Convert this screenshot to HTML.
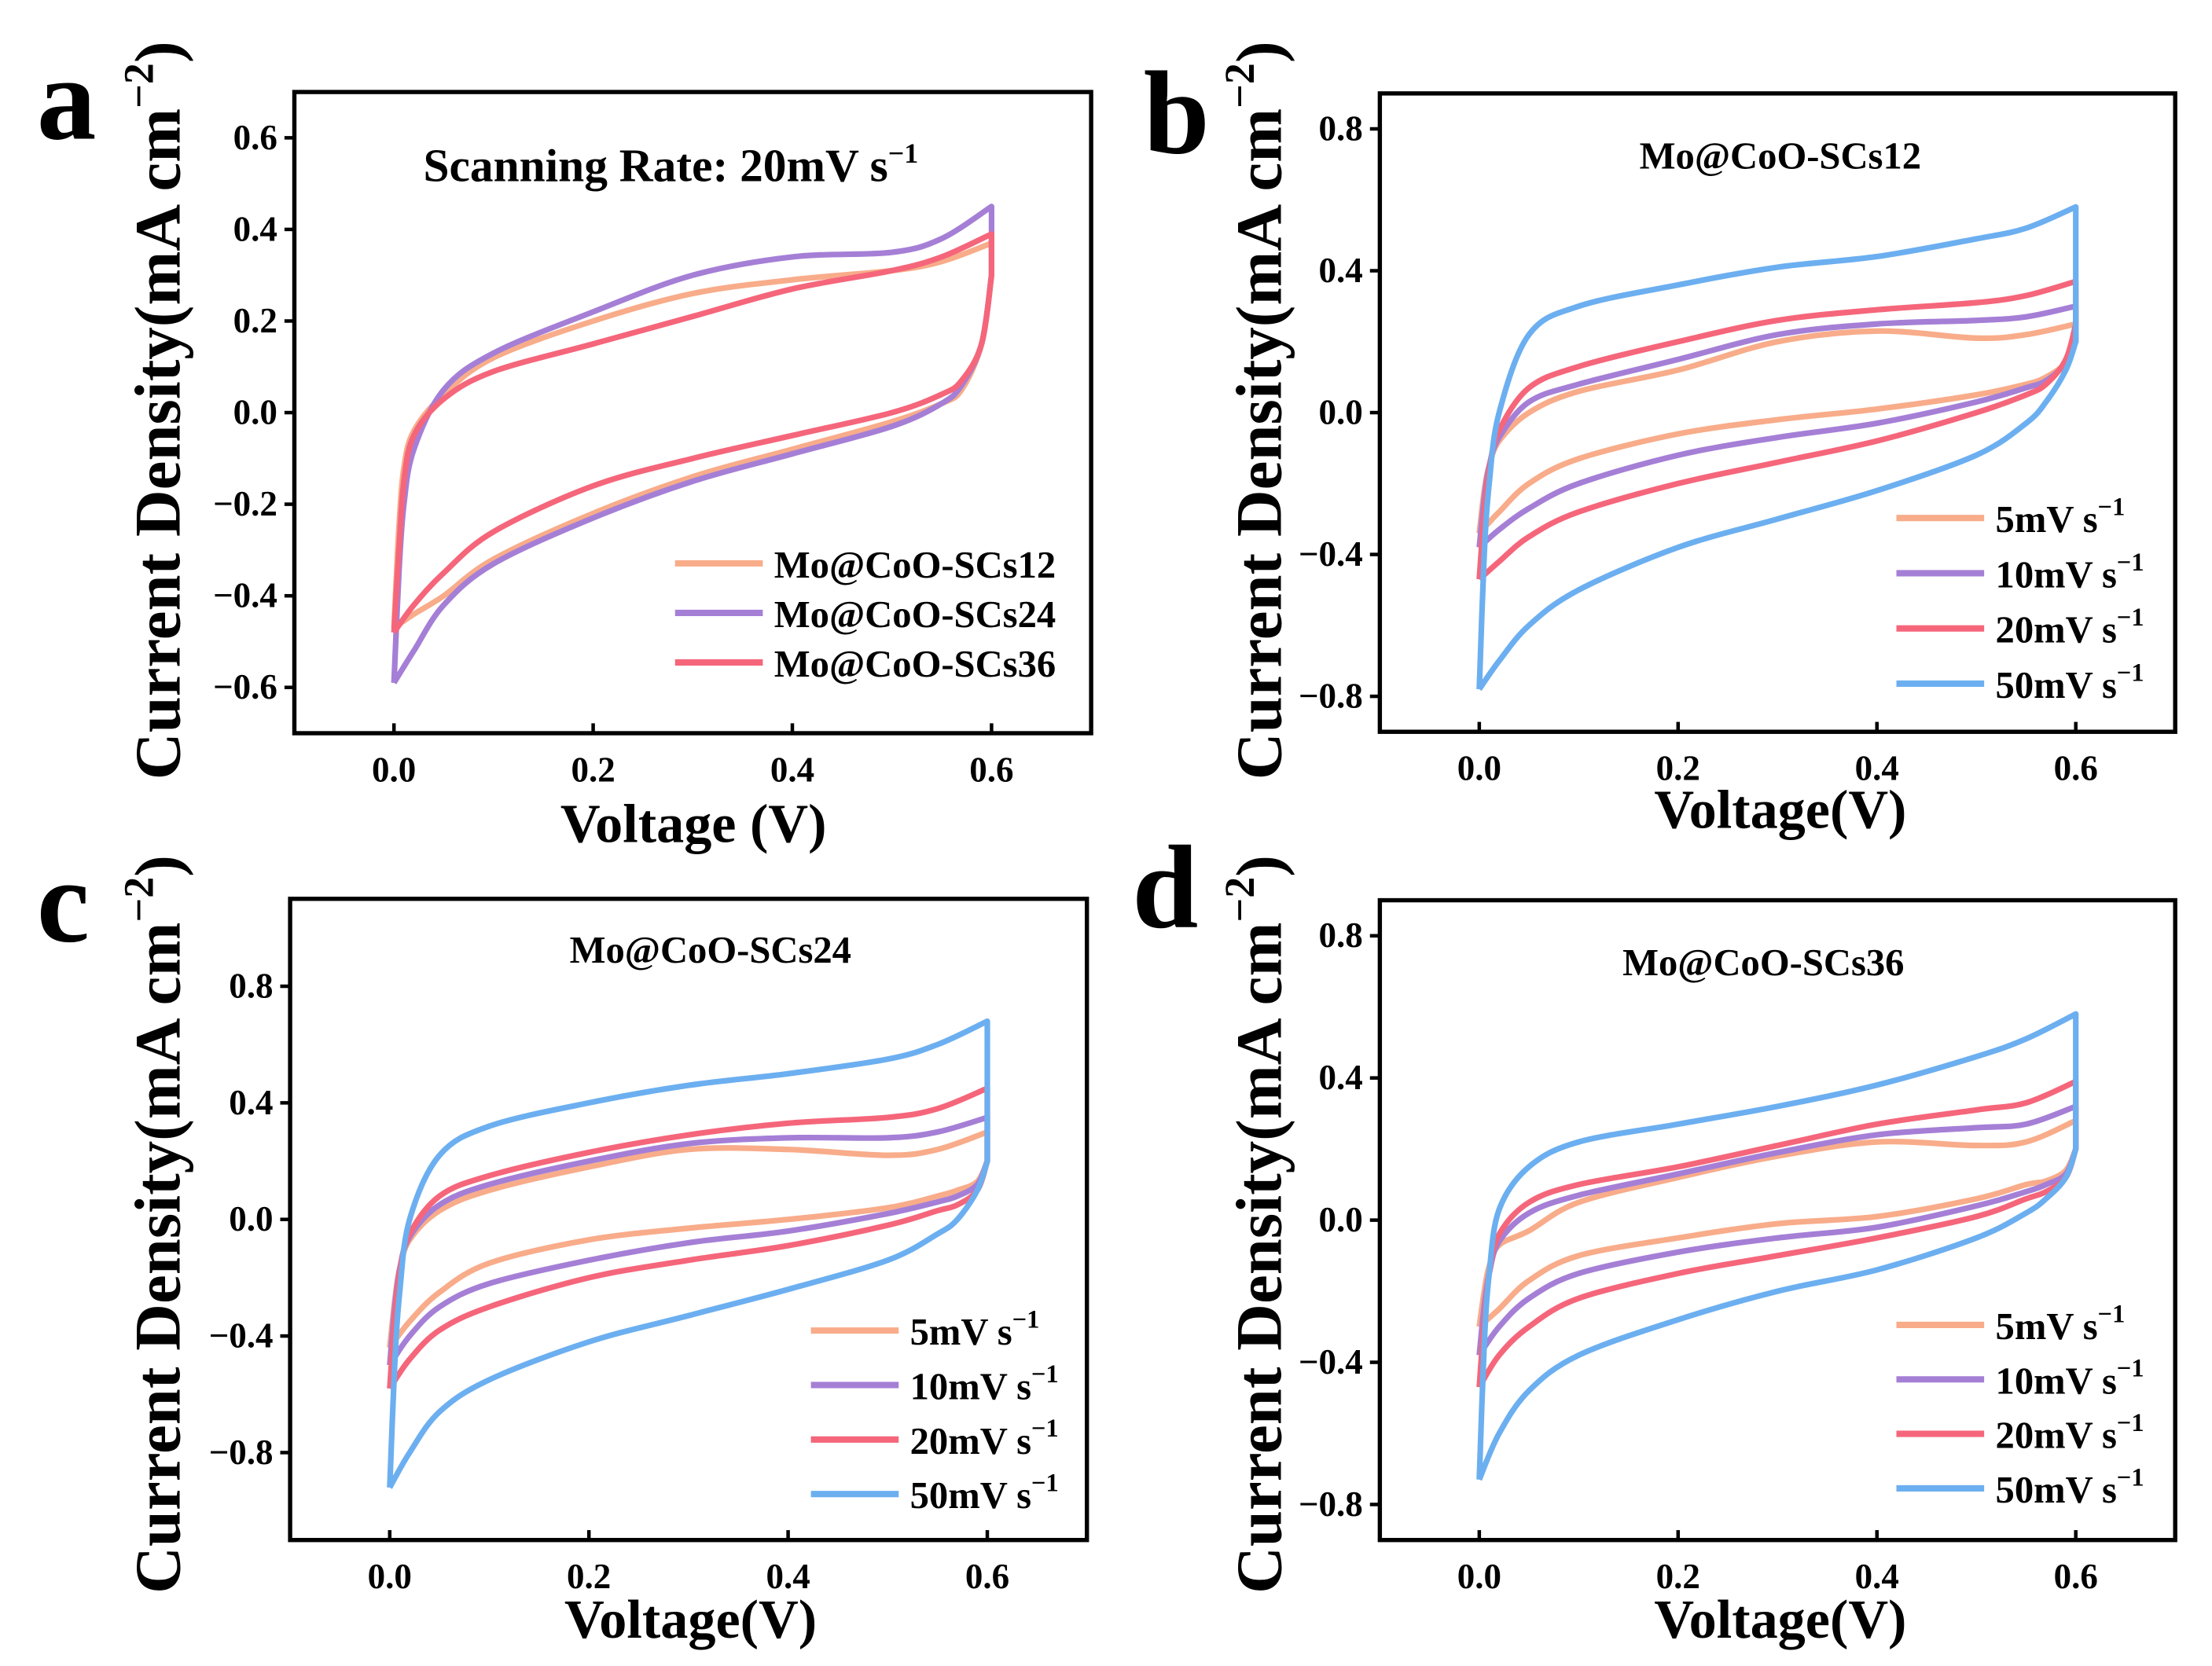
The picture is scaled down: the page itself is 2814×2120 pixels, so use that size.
<!DOCTYPE html>
<html><head><meta charset="utf-8"><style>
html,body{margin:0;padding:0;background:#fff}
svg{display:block}
text{font-family:"Liberation Serif",serif;font-weight:bold;fill:#000}
</style></head><body>
<svg id="fig" width="2814" height="2120" viewBox="0 0 1563 1177" preserveAspectRatio="none" xmlns="http://www.w3.org/2000/svg"></svg>
<script>
// shared voltage sampling (forward then reverse branch)
const fwdV = [0,0.005,0.01,0.02,0.05,0.1,0.2,0.3,0.4,0.5,0.55,0.6];
const revV = [0.6,0.59,0.57,0.55,0.5,0.4,0.3,0.2,0.1,0.05,0.02,0];
const xTicks = [0.0,0.2,0.4,0.6];
const xTickLabels = ["0.0","0.2","0.4","0.6"];
const yTicksA = [-0.6,-0.4,-0.2,0.0,0.2,0.4,0.6];
const yTickLabelsA = ["\u22120.6","\u22120.4","\u22120.2","0.0","0.2","0.4","0.6"];
const yTicksBCD = [-0.8,-0.4,0.0,0.4,0.8];
const yTickLabelsBCD = ["\u22120.8","\u22120.4","0.0","0.4","0.8"];
const seriesNamesA = ["Mo@CoO-SCs12","Mo@CoO-SCs24","Mo@CoO-SCs36"];
const rateNames = ["5mV s","10mV s","20mV s","50mV s"];
// panel a
const a12F = [-0.47,-0.25,-0.12,-0.04,0.04,0.12,0.2,0.26,0.29,0.31,0.33,0.37];
const a12R = [0.3,0.15,0.05,0.02,-0.02,-0.08,-0.14,-0.22,-0.32,-0.4,-0.44,-0.47];
const a24F = [-0.59,-0.35,-0.2,-0.08,0.05,0.13,0.22,0.3,0.34,0.35,0.38,0.45];
const a24R = [0.3,0.15,0.06,0.02,-0.03,-0.09,-0.15,-0.23,-0.33,-0.42,-0.52,-0.59];
const a36F = [-0.48,-0.3,-0.15,-0.05,0.03,0.09,0.15,0.21,0.27,0.31,0.34,0.39];
const a36R = [0.3,0.15,0.07,0.04,0.0,-0.05,-0.1,-0.16,-0.26,-0.35,-0.42,-0.48];
// panel b (SCs12)
const b5F = [-0.34,-0.22,-0.15,-0.08,0.0,0.06,0.12,0.2,0.23,0.21,0.22,0.25];
const b5R = [0.2,0.14,0.1,0.08,0.05,0.01,-0.02,-0.06,-0.13,-0.2,-0.28,-0.34];
const b10F = [-0.38,-0.24,-0.15,-0.07,0.03,0.08,0.15,0.22,0.25,0.26,0.27,0.3];
const b10R = [0.2,0.14,0.09,0.07,0.03,-0.03,-0.07,-0.12,-0.2,-0.27,-0.33,-0.38];
const b20F = [-0.47,-0.28,-0.16,-0.05,0.07,0.13,0.2,0.26,0.29,0.31,0.33,0.37];
const b20R = [0.25,0.15,0.08,0.05,0.0,-0.08,-0.14,-0.2,-0.28,-0.35,-0.42,-0.47];
const b50F = [-0.78,-0.4,-0.2,0.0,0.22,0.3,0.36,0.41,0.44,0.49,0.52,0.58];
const b50R = [0.2,0.12,0.03,-0.03,-0.12,-0.22,-0.3,-0.38,-0.5,-0.6,-0.7,-0.78];
// panel c (SCs24)
const c5F = [-0.44,-0.28,-0.17,-0.07,0.03,0.1,0.18,0.24,0.24,0.22,0.24,0.3];
const c5R = [0.2,0.13,0.1,0.08,0.04,0.0,-0.03,-0.07,-0.15,-0.25,-0.35,-0.44];
const c10F = [-0.5,-0.3,-0.17,-0.06,0.05,0.12,0.2,0.26,0.28,0.28,0.3,0.35];
const c10R = [0.2,0.12,0.08,0.06,0.02,-0.04,-0.08,-0.14,-0.22,-0.3,-0.4,-0.5];
const c20F = [-0.58,-0.34,-0.18,-0.05,0.08,0.15,0.23,0.29,0.33,0.35,0.38,0.45];
const c20R = [0.2,0.1,0.05,0.03,-0.02,-0.09,-0.14,-0.2,-0.3,-0.38,-0.48,-0.58];
const c50F = [-0.92,-0.5,-0.25,0.0,0.22,0.32,0.4,0.46,0.5,0.55,0.6,0.68];
const c50R = [0.2,0.1,0.0,-0.05,-0.14,-0.24,-0.33,-0.42,-0.55,-0.66,-0.8,-0.92];
// panel d (SCs36)
const d5F = [-0.3,-0.2,-0.13,-0.07,-0.03,0.05,0.12,0.18,0.22,0.21,0.22,0.28];
const d5R = [0.2,0.14,0.11,0.1,0.06,0.01,-0.01,-0.05,-0.1,-0.17,-0.25,-0.3];
const d10F = [-0.38,-0.24,-0.15,-0.06,0.02,0.07,0.13,0.19,0.24,0.26,0.27,0.32];
const d10R = [0.2,0.13,0.1,0.08,0.04,-0.02,-0.05,-0.09,-0.15,-0.22,-0.3,-0.38];
const d20F = [-0.47,-0.28,-0.15,-0.04,0.05,0.1,0.15,0.21,0.27,0.31,0.33,0.39];
const d20R = [0.2,0.12,0.08,0.06,0.01,-0.05,-0.1,-0.15,-0.22,-0.3,-0.38,-0.47];
const d50F = [-0.73,-0.35,-0.15,0.03,0.15,0.22,0.27,0.32,0.38,0.46,0.51,0.58];
const d50R = [0.2,0.12,0.06,0.02,-0.05,-0.14,-0.2,-0.28,-0.38,-0.48,-0.6,-0.73];

const COL = {o:"#f8ac8a", p:"#a57fd6", r:"#f5667b", b:"#6caff0"};
const NS = "http://www.w3.org/2000/svg";
const svg = document.getElementById('fig');
function el(tag, attrs, parent){const e=document.createElementNS(NS,tag);for(const k in attrs)e.setAttribute(k,attrs[k]);(parent||svg).appendChild(e);return e;}
function smooth(pts){
  let d="M"+pts[0][0].toFixed(2)+","+pts[0][1].toFixed(2);
  for(let i=0;i<pts.length-1;i++){
    const p0=pts[Math.max(0,i-1)],p1=pts[i],p2=pts[i+1],p3=pts[Math.min(pts.length-1,i+2)];
    const t=1/6;
    const c1=[p1[0]+(p2[0]-p0[0])*t,p1[1]+(p2[1]-p0[1])*t];
    const c2=[p2[0]-(p3[0]-p1[0])*t,p2[1]-(p3[1]-p1[1])*t];
    d+="C"+c1[0].toFixed(2)+","+c1[1].toFixed(2)+" "+c2[0].toFixed(2)+","+c2[1].toFixed(2)+" "+p2[0].toFixed(2)+","+p2[1].toFixed(2);
  }
  return d;
}
function panel(cfg){
  const g=el('g',{});
  
  
  const {x0,x1,y0,y1,ymin,ymax}=cfg;
  const xs=v=>x0+(v-(-0.1))/(0.8)*(x1-x0);
  const ys=v=>y1-(v-ymin)/(ymax-ymin)*(y1-y0);
  cfg.series.forEach((s,i)=>{
    const pth=el('path',{d:smooth(fwdV.map((v,k)=>[xs(v),ys(s.f[k])]))+" "+smooth(revV.map((v,k)=>[xs(v),ys(s.r[k])])).replace(/^M/,"L"),fill:"none",stroke:s.c,"stroke-width":4,"stroke-linejoin":"round"},g);
    
    
  });
  const fr=el('rect',{x:x0,y:y0,width:x1-x0,height:y1-y0,fill:"none",stroke:"#000","stroke-width":3},g);
  
  
  xTicks.forEach((v,i)=>{
    el('line',{x1:xs(v),x2:xs(v),y1:y1,y2:y1-7,stroke:"#000","stroke-width":2.5},g);
    const t=el('text',{x:xs(v),y:y1+34,"text-anchor":"middle","font-size":25},g);
    t.textContent=xTickLabels[i];
    
    
  });
  cfg.yt.forEach((v,i)=>{
    el('line',{x1:x0,x2:x0-7,y1:ys(v),y2:ys(v),stroke:"#000","stroke-width":2.5},g);
    const t=el('text',{x:x0-12,y:ys(v)+8,"text-anchor":"end","font-size":25},g);
    t.textContent=cfg.yl[i];
    
    
  });
  const tt=el('text',{x:cfg.tx,y:cfg.ty,"text-anchor":"middle","font-size":cfg.tfs},g);
  tt.innerHTML=cfg.title;
  
  
  cfg.series.forEach((s,i)=>{
    const ly=cfg.ly+i*cfg.lstep;
    const ln=el('line',{x1:cfg.lx,x2:cfg.lx+62,y1:ly,y2:ly,stroke:s.c,"stroke-width":4.5},g);
    
    
    const lt=el('text',{x:cfg.lx+70,y:ly+10,"font-size":27},g);
    lt.innerHTML=s.label;
    
    
  });
  const yt=el('text',{x:0,y:0,"text-anchor":"middle","font-size":46,transform:`translate(${cfg.yx},${cfg.yy}) rotate(-90)`},g);
  yt.innerHTML='Current Density(mA cm<tspan dy="-19" font-size="30">\u22122</tspan><tspan dy="19">)</tspan>';
  
  
  const xt=el('text',{x:cfg.xtx,y:cfg.xty,"text-anchor":"middle","font-size":39},g);
  xt.textContent=cfg.xlabel;
  
  
  const pl=el('text',{x:cfg.px,y:cfg.py,"font-size":84},g);
  pl.textContent=cfg.letter;
  
  
}
const sup='<tspan dy="-12" font-size="18">\u22121</tspan>';
function rs(f5,r5,f10,r10,f20,r20,f50,r50){
  return [{f:f5,r:r5,c:COL.o,n:'5mV',label:rateNames[0]+sup},{f:f10,r:r10,c:COL.p,n:'10mV',label:rateNames[1]+sup},{f:f20,r:r20,c:COL.r,n:'20mV',label:rateNames[2]+sup},{f:f50,r:r50,c:COL.b,n:'50mV',label:rateNames[3]+sup}];
}
panel({id:'panel-a',letter:'a',px:26,py:98,x0:208,x1:771,y0:65,y1:518,ymin:-0.7,ymax:0.7,yt:yTicksA,yl:yTickLabelsA,
  title:'Scanning Rate: 20mV s<tspan dy="-13" font-size="20">\u22121</tspan>',tx:474,ty:128,tfs:33,
  series:[{f:a12F,r:a12R,c:COL.o,n:'a-12',label:seriesNamesA[0]},{f:a24F,r:a24R,c:COL.p,n:'a-24',label:seriesNamesA[1]},{f:a36F,r:a36R,c:COL.r,n:'a-36',label:seriesNamesA[2]}],
  lx:477,ly:398,lstep:35,yx:127,yy:290,xtx:490,xty:595,xlabel:'Voltage (V)'});
panel({id:'panel-b',letter:'b',px:808,py:108,x0:975,x1:1537,y0:66,y1:517,ymin:-0.9,ymax:0.9,yt:yTicksBCD,yl:yTickLabelsBCD,
  title:'Mo@CoO-SCs12',tx:1258,ty:119,tfs:27,series:rs(b5F,b5R,b10F,b10R,b20F,b20R,b50F,b50R),
  lx:1340,ly:366,lstep:39,yx:905,yy:290,xtx:1258,xty:585,xlabel:'Voltage(V)'});
panel({id:'panel-c',letter:'c',px:26,py:665,x0:205,x1:768,y0:635,y1:1088,ymin:-1.1,ymax:1.1,yt:yTicksBCD,yl:yTickLabelsBCD,
  title:'Mo@CoO-SCs24',tx:502,ty:680,tfs:27,series:rs(c5F,c5R,c10F,c10R,c20F,c20R,c50F,c50R),
  lx:573,ly:940,lstep:38.5,yx:127,yy:865,xtx:488,xty:1157,xlabel:'Voltage(V)'});
panel({id:'panel-d',letter:'d',px:800,py:655,x0:975,x1:1537,y0:636,y1:1088,ymin:-0.9,ymax:0.9,yt:yTicksBCD,yl:yTickLabelsBCD,
  title:'Mo@CoO-SCs36',tx:1246,ty:689,tfs:27,series:rs(d5F,d5R,d10F,d10R,d20F,d20R,d50F,d50R),
  lx:1340,ly:936,lstep:38.5,yx:905,yy:865,xtx:1258,xty:1157,xlabel:'Voltage(V)'});
</script>
</body></html>
